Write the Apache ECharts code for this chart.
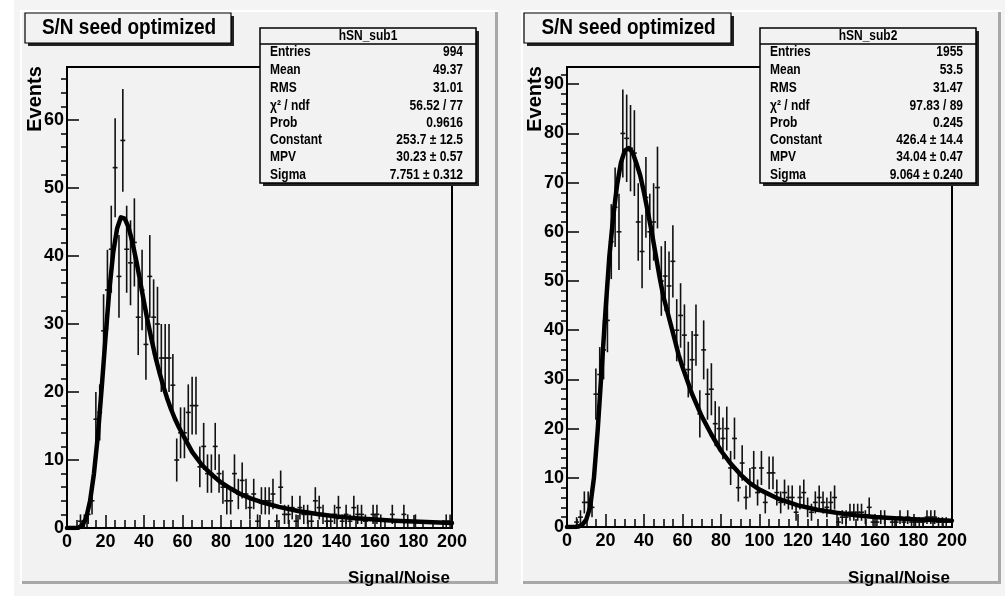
<!DOCTYPE html>
<html><head><meta charset="utf-8">
<script src="https://cdn.jsdelivr.net/npm/echarts@6/dist/echarts.min.js"></script>
<style>html,body{margin:0;padding:0;background:#f4f4f4}#c{width:1005px;height:596px}</style>
</head><body><div id="c"></div><script>
// ---- data ----
const binLow = 0, binWidth = 2;               // histogram binning 0..200, 100 bins
const countsSub1 = [
  0,0,0,1,1,2,4,16,17,29,
  35,41,53,37,57,41,39,42,31,35,
  27,37,31,30,25,25,25,21,10,14,
  14,17,18,18,9,12,8,8,12,8,
  6,4,4,8,5,7,5,3,5,1,
  4,4,4,5,1,6,2,2,3,1,
  3,2,2,1,4,3,2,1,1,2,
  3,1,2,1,3,2,2,1,0,2,
  2,1,0,0,2,0,0,2,1,0,
  1,0,0,0,0,0,0,0,1,1];
const countsSub2 = [
  0,0,1,2,5,5,4,27,31,36,
  42,58,65,60,80,79,77,76,62,56,
  67,60,62,69,50,51,49,54,40,43,
  39,32,34,39,23,36,27,28,21,20,
  18,20,12,18,8,13,6,9,12,7,
  12,5,11,11,7,5,7,6,6,3,
  6,7,4,3,5,6,5,4,5,6,
  1,2,2,3,3,3,3,2,4,1,
  1,2,2,0,1,1,2,1,2,1,
  1,1,1,2,2,2,1,1,1,0];
// Landau fit curves
const fitX1 = [0,2,4,6,8,10,12,14,16,18,20,22,24,26,28,30,32,34,36,38,40,42,44,46,48,50,52,54,56,58,60,65,70,75,80,85,90,95,100,110,120,130,140,150,160,170,180,190,200];
const fitY1 = [0,0,0,0.05,0.4,1.5,4,8,13.5,20.5,28,35,40.5,44,45.7,45.5,44.2,42,39.3,36.3,33.2,30.3,27.6,25.1,22.9,20.9,19.1,17.5,16.1,14.9,13.8,11.2,9.3,7.9,6.7,5.8,5.0,4.4,3.9,3.1,2.5,2.05,1.7,1.45,1.25,1.08,0.95,0.83,0.73];
const fitX2 = [0,2,4,6,8,10,12,14,16,18,20,22,24,26,28,30,32,34,36,38,40,42,44,46,48,50,52,54,56,58,60,65,70,75,80,85,90,95,100,110,120,130,140,150,160,170,180,190,200];
const fitY2 = [0,0,0,0.1,0.5,1.5,4,10,20,32,44,55,63,69.5,74,76.5,77,76.2,74,71.5,68,64,60,55.5,51,47,44,41,38,35,32.5,27,22.5,18.8,15.5,12.9,10.7,8.9,7.6,5.7,4.4,3.5,2.9,2.4,2.05,1.8,1.6,1.42,1.27];
const yTicks1 = [0,10,20,30,40,50,60];
const yTicks2 = [0,10,20,30,40,50,60,70,80,90];
const yMax1 = 67.8, yMax2 = 93.5;
const titleText = 'S/N seed optimized';
const statsName1 = 'hSN_sub1', statsName2 = 'hSN_sub2';
const statsLabels = ['Entries','Mean','RMS','χ² / ndf','Prob','Constant','MPV','Sigma'];
const statsValues1 = ['994','49.37','31.01','56.52 / 77','0.9616','253.7 ± 12.5','30.23 ± 0.57','7.751 ± 0.312'];
const statsValues2 = ['1955','53.5','31.47','97.83 / 89','0.245','426.4 ± 14.4','34.04 ± 0.47','9.064 ± 0.240'];

// ---- build ----
function histPoints(counts){
  const out = [];
  counts.forEach((c,i)=>{ if(c>0) out.push([binLow + binWidth*(i+0.5), c, Math.sqrt(c)]); });
  return out;
}
function minorList(step, max, majorStep){
  const a=[]; for(let v=step; v<max; v+=step){ if(Math.abs(v/majorStep-Math.round(v/majorStep))>1e-6) a.push(+v.toFixed(3)); } return a;
}
function errRender(params, api){
  const x = api.value(0), v = api.value(1), e = api.value(2);
  const t = api.coord([x, v+e]), b = api.coord([x, Math.max(v-e,0)]);
  const l = api.coord([x-binWidth/2, v]), r = api.coord([x+binWidth/2, v]);
  const st = {stroke:'#111', lineWidth:1.6};
  return {type:'group', children:[
    {type:'line', shape:{x1:t[0],y1:t[1],x2:b[0],y2:b[1]}, style:st},
    {type:'line', shape:{x1:l[0]-0.5,y1:l[1],x2:r[0]+0.5,y2:r[1]}, style:st}
  ]};
}
const FONT = '"Liberation Sans", Arial, Helvetica, sans-serif';
const PAD = '#f2f2f2';
const lab = {color:'#000', fontFamily:FONT, fontWeight:'bold', fontSize:18};

function xAxisFor(g){
  return {type:'value', gridIndex:g, min:0, max:200, interval:20,
    axisLine:{show:true, onZero:false, lineStyle:{color:'#000', width:2}},
    axisTick:{show:true, inside:true, length:13, lineStyle:{color:'#000', width:1.5}},
    minorTick:{show:true, splitNumber:4, length:8, lineStyle:{color:'#000', width:1.5}},
    splitLine:{show:false},
    axisLabel:Object.assign({margin:5, hideOverlap:false}, lab)};
}
function yAxisMajor(g, max, ticks){
  return {type:'value', gridIndex:g, min:0, max:max,
    axisLine:{show:true, onZero:false, lineStyle:{color:'#000', width:2}},
    axisTick:{show:true, inside:true, length:12, customValues:ticks, lineStyle:{color:'#000', width:1.5}},
    splitLine:{show:false},
    axisLabel:Object.assign({margin:3, customValues:ticks}, lab)};
}
function yAxisMinor(g, max){
  return {type:'value', gridIndex:g, min:0, max:max,
    axisLine:{show:false},
    axisTick:{show:true, inside:true, length:6, customValues:minorList(2,max,10), lineStyle:{color:'#000', width:1.5}},
    splitLine:{show:false}, axisLabel:{show:false}};
}
function txt(x, y, text, size, align, extra){
  return Object.assign({type:'text', z:42, x:x, y:y,
    style:{text:text, font:'bold '+size+'px '+FONT, fill:'#000', align:align, verticalAlign:'middle', textAlign:align, textVerticalAlign:'middle'}}, extra||{});
}
function padGraphics(x, y, w, h){
  return [
    {type:'rect', z:-10, shape:{x:x,y:y,width:w,height:h}, style:{fill:PAD}},
    {type:'polyline', z:-9, shape:{points:[[x+1,y+h],[x+1,y+1],[x+w,y+1]]}, style:{stroke:'#ffffff', lineWidth:2, fill:null}},
    {type:'polyline', z:-9, shape:{points:[[x+2,y+h-1.5],[x+w-1.5,y+h-1.5],[x+w-1.5,y+2]]}, style:{stroke:'#a8a8a8', lineWidth:3, fill:null}}
  ];
}
function titleBox(x, y, w, h){
  return [
    {type:'rect', z:40, shape:{x:x+3,y:y+3,width:w,height:h}, style:{fill:'#222'}},
    {type:'rect', z:41, shape:{x:x,y:y,width:w,height:h}, style:{fill:PAD, stroke:'#000', lineWidth:1.2}},
    txt(x+w/2+1, y+h/2, titleText, 19, 'center', {scaleY:1.12})
  ];
}
function statsBox(x, y, name, values){
  const w = 216, h = 155;
  const els = [
    {type:'rect', z:40, shape:{x:x+3,y:y+3,width:w,height:h}, style:{fill:'#222'}},
    {type:'rect', z:41, shape:{x:x,y:y,width:w,height:h}, style:{fill:PAD, stroke:'#000', lineWidth:1.5}},
    {type:'line', z:42, shape:{x1:x,y1:y+16,x2:x+w,y2:y+16}, style:{stroke:'#000', lineWidth:1.5}},
    txt(x+w/2, y+8.5, name, 12, 'center', {scaleY:1.18})
  ];
  const rowsY = [24, 42.5, 60.5, 78, 95, 112, 129.5, 147];
  statsLabels.forEach((t,i)=>{
    els.push(txt(x+10, y+rowsY[i], t, 12, 'left', {scaleY:1.18}));
    els.push(txt(x+203, y+rowsY[i], values[i], 12, 'right', {scaleY:1.18}));
  });
  return els;
}
function axisTitles(xEvents, xSigRight){
  return [
    txt(xEvents, 99, 'Events', 20, 'center', {rotation:Math.PI/2}),
    txt(xSigRight, 578, 'Signal/Noise', 17, 'right')
  ];
}

const graphics = [].concat(
  [{type:'rect', z:-11, shape:{x:0,y:0,width:14,height:596}, style:{fill:'#ffffff'}}],
  padGraphics(20,10,478,574), padGraphics(521,10,480,574),
  titleBox(25,13,206,30), titleBox(524,13,207,30),
  statsBox(260,28,statsName1,statsValues1), statsBox(760,28,statsName2,statsValues2),
  axisTitles(35,450), axisTitles(535,950)
);

const option = {
  animation:false,
  backgroundColor:'transparent',
  grid:[
    {left:67, top:67, width:385, height:461, show:true, backgroundColor:PAD, borderColor:'#000', borderWidth:2},
    {left:567, top:67, width:385, height:460, show:true, backgroundColor:PAD, borderColor:'#000', borderWidth:2}
  ],
  xAxis:[xAxisFor(0), xAxisFor(1)],
  yAxis:[yAxisMajor(0,yMax1,yTicks1), yAxisMinor(0,yMax1), yAxisMajor(1,yMax2,yTicks2), yAxisMinor(1,yMax2)],
  graphic:{elements:graphics},
  series:[
    {type:'custom', xAxisIndex:0, yAxisIndex:0, renderItem:errRender, data:histPoints(countsSub1), z:3, clip:true},
    {type:'line', xAxisIndex:0, yAxisIndex:0, data:fitX1.map((x,i)=>[x,fitY1[i]]), smooth:false, showSymbol:false, symbol:'none', lineStyle:{color:'#000', width:4.5, join:'round', cap:'round'}, z:4},
    {type:'custom', xAxisIndex:1, yAxisIndex:2, renderItem:errRender, data:histPoints(countsSub2), z:3, clip:true},
    {type:'line', xAxisIndex:1, yAxisIndex:2, data:fitX2.map((x,i)=>[x,fitY2[i]]), smooth:false, showSymbol:false, symbol:'none', lineStyle:{color:'#000', width:4.5, join:'round', cap:'round'}, z:4}
  ]
};
const chart = echarts.init(document.getElementById('c'), null, {renderer:'canvas'});
chart.setOption(option);
</script></body></html>
